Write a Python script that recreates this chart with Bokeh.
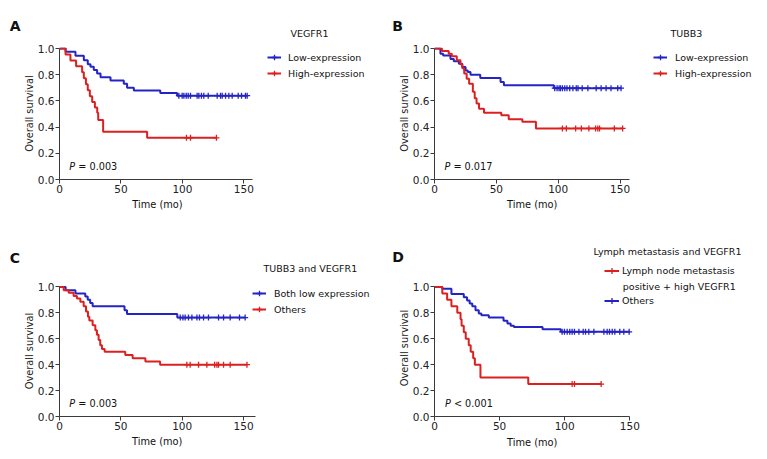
import numpy as np
from bokeh.plotting import figure
from bokeh.layouts import column, row
from bokeh.models import Range1d, FixedTicker, PrintfTickFormatter, Legend, LegendItem, Label
from bokeh.embed import file_html
from bokeh.resources import INLINE

FONT = "DejaVu Sans"
BLUE = "#2424c4"
RED = "#dc2020"

# ---------------- data (time in months, survival probability) ----------------
# Panel A: VEGFR1
a_low_t = [0, 5, 13, 19.8, 23, 25.2, 27.9, 30.6, 33.4, 41.5, 52.3, 55, 60.5, 82, 95.7, 152.7]
a_low_s = [1.0, 0.975, 0.945, 0.91, 0.88, 0.86, 0.835, 0.81, 0.78, 0.755, 0.73, 0.70, 0.68, 0.66, 0.64, 0.64]
a_low_c = [97.1, 99.8, 101.2, 103.1, 104.7, 106.6, 112, 113.4, 115.5, 117.4, 121, 128.3, 131, 132.4,
           135.1, 137.8, 140.5, 145.4, 148.1, 151.3, 152.7]
a_high_t = [0, 4.9, 8.9, 13.5, 18.4, 19.8, 21.5, 23, 24.7, 26.6, 28.8, 30.7, 31.5, 35.5, 71.3, 127.7]
a_high_s = [1.0, 0.955, 0.909, 0.864, 0.818, 0.773, 0.727, 0.682, 0.636, 0.591, 0.55, 0.51, 0.455, 0.364, 0.318, 0.318]
a_high_c = [103.3, 106.6, 127.7]

# Panel B: TUBB3
b_low_t = [0, 4.8, 7, 12.9, 15.6, 19.7, 22.4, 25.1, 26.9, 29.1, 37, 53.4, 56.1, 96.5, 151]
b_low_s = [1.0, 0.96, 0.947, 0.92, 0.903, 0.883, 0.858, 0.832, 0.82, 0.80, 0.775, 0.745, 0.72, 0.697, 0.697]
b_low_c = [97.2, 99.1, 100.7, 101.8, 103.4, 105.3, 107.1, 109.3, 111.9, 114.6, 116, 119.4, 124, 130.7,
           134.7, 138.7, 142.7, 148.1, 150.8]
b_high_t = [0, 6, 11.5, 14, 18, 21, 22.5, 24, 26, 28, 31, 32.5, 34, 36, 40, 54, 60, 71, 82, 152.5]
b_high_s = [1.0, 0.98, 0.96, 0.94, 0.91, 0.88, 0.85, 0.81, 0.77, 0.73, 0.67, 0.62, 0.58, 0.54, 0.51, 0.49,
            0.46, 0.44, 0.39, 0.39]
b_high_c = [103.4, 106.6, 114.1, 118.7, 124.8, 130.2, 132, 133.4, 145.4, 152.1]

# Panel C: TUBB3 and VEGFR1
c_low_t = [0, 5, 13, 21, 23, 25, 27, 53, 55, 96, 151.3]
c_low_s = [1.0, 0.975, 0.95, 0.925, 0.90, 0.875, 0.85, 0.82, 0.79, 0.763, 0.763]
c_low_c = [98.4, 100.6, 102.4, 105.1, 107.9, 112, 114.1, 117.4, 121.4, 129.6, 133.7, 139.1, 146.7, 151.3]
c_oth_t = [0, 3.4, 7.5, 11.5, 14.2, 17, 19.7, 21.6, 23.2, 24.3, 27, 29.2, 30.5, 31.9, 33.2, 34.6, 36.8,
           53.6, 59.6, 70, 82, 152.8]
c_oth_s = [1.0, 0.975, 0.955, 0.93, 0.91, 0.885, 0.85, 0.81, 0.77, 0.74, 0.705, 0.665, 0.63, 0.59, 0.55,
           0.52, 0.50, 0.475, 0.45, 0.425, 0.40, 0.40]
c_oth_c = [103.8, 106.5, 113.3, 120.1, 126.4, 128.3, 129.6, 133.7, 139.1, 152.8]

# Panel D: Lymph metastasis and VEGFR1
d_pos_t = [0, 6, 9.7, 13, 17.5, 20, 20.8, 22.5, 24, 26.3, 27.8, 29.7, 31, 35.3, 72, 128]
d_pos_s = [1.0, 0.95, 0.90, 0.85, 0.80, 0.75, 0.70, 0.65, 0.60, 0.55, 0.50, 0.45, 0.40, 0.30, 0.25, 0.25]
d_pos_c = [105.7, 107.5, 128]
d_oth_t = [0, 6, 13, 22.5, 25, 27, 29, 31.5, 34, 36, 41.7, 53, 56, 58.5, 61, 83, 97, 150]
d_oth_s = [1.0, 0.985, 0.945, 0.92, 0.895, 0.872, 0.85, 0.82, 0.795, 0.782, 0.764, 0.738, 0.718, 0.70,
           0.69, 0.674, 0.653, 0.653]
d_oth_c = [98, 99.8, 101.9, 103.9, 105.7, 107.5, 110.9, 114.2, 116, 118.5, 122.4, 130.1, 132.6, 134.4,
           136.5, 138.5, 142.3, 145.4, 149.5]

x_ticks = [0, 50, 100, 150]
y_ticks = [0.0, 0.2, 0.4, 0.6, 0.8, 1.0]
p_values = ["= 0.003", "= 0.017", "= 0.003", "< 0.001"]
p_pos = (8, 0.1)

BIG = "14px"
SMALL = "9.5px"


def surv_at(times, surv, t):
    idx = np.searchsorted(np.asarray(times), t, side="right") - 1
    return [surv[i] for i in idx]


def no_align(p):
    if "frame_align" in p.properties():
        p.frame_align = False


def textbox(width, height, texts):
    """A borderless figure used only to hold text (and legends) around a plot."""
    h = figure(width=width, height=height, output_backend="svg", toolbar_location=None,
               x_range=Range1d(0, width), y_range=Range1d(height, 0),
               x_axis_location=None, y_axis_location=None,
               min_border_left=0, min_border_right=0, min_border_top=0, min_border_bottom=0)
    no_align(h)
    h.outline_line_color = None
    h.grid.visible = False
    for x, y, txt, size, style, align in texts:
        h.add_layout(Label(x=x, y=y, text=txt, text_font=FONT, text_font_size=size,
                           text_font_style=style, text_baseline="middle", text_align=align,
                           text_color="#111111"))
    return h


def panel(width, height, left, top, bottom, ppu_x, axis_end, ppu_y):
    frame_w = width - left
    frame_h = height - top - bottom
    p = figure(width=width, height=height, output_backend="svg", toolbar_location=None,
               x_range=Range1d(0, frame_w / ppu_x), y_range=Range1d(0, frame_h / ppu_y),
               min_border_left=left, min_border_right=0,
               min_border_top=top, min_border_bottom=bottom)
    no_align(p)
    p.outline_line_color = None
    p.grid.visible = False
    for ax, ticks, fmt in ((p.xaxis[0], x_ticks, "%d"), (p.yaxis[0], y_ticks, "%.1f")):
        ax.ticker = FixedTicker(ticks=ticks)
        ax.formatter = PrintfTickFormatter(format=fmt)
        ax.axis_line_color = "#3a3a3a"
        ax.major_tick_line_color = "#3a3a3a"
        ax.minor_tick_line_color = None
        ax.major_tick_in = 0
        ax.major_label_text_font = FONT
        ax.major_label_text_font_size = "10.5px"
        ax.major_label_text_color = "#222222"
        ax.axis_label_text_font = FONT
        ax.axis_label_text_font_size = "9.8px"
        ax.axis_label_text_font_style = "normal"
        ax.axis_label_text_color = "#222222"
    p.xaxis.bounds = (0, axis_end)
    p.yaxis.bounds = (0, 1)
    p.xaxis.major_tick_out = 4
    p.xaxis.major_label_standoff = 1
    p.yaxis.major_tick_out = 4
    p.yaxis.major_label_standoff = 1
    p.yaxis.axis_label_standoff = 0
    p.yaxis.axis_label = "Overall survival"
    return p


def curve(p, t, s, c, color):
    ln = p.step(t, s, mode="after", line_color=color, line_width=2)
    sc = p.scatter(c, surv_at(t, s, c), marker="cross", size=6, line_color=color, line_width=1.3)
    return [ln, sc]


def pval(p, txt):
    x, y = p_pos
    p.add_layout(Label(x=x, y=y, text="P", text_font=FONT, text_font_size="9.7px",
                       text_font_style="italic", text_baseline="middle", text_color="#111111"))
    p.add_layout(Label(x=x, y=y, x_offset=9, text=txt, text_font=FONT, text_font_size="9.7px",
                       text_baseline="middle", text_color="#111111"))


def legend(p, items, loc, standoff=7, gw=14, gh=16, spacing=0):
    lg = Legend(items=[LegendItem(label=l, renderers=r) for l, r in items], location=loc,
                border_line_color=None, background_fill_alpha=0, padding=0, margin=0, spacing=spacing,
                glyph_width=gw, glyph_height=gh, label_height=gh, label_standoff=standoff,
                label_text_font=FONT, label_text_font_size=SMALL, label_text_color="#111111")
    p.add_layout(lg)


XLAB = "Time (mo)"

# ---------------- panel A ----------------
ha = textbox(384, 40, [(9.3, 25, "A", BIG, "bold", "left"), (290, 33.3, "VEGFR1", SMALL, "normal", "left")])
pa = panel(384, 158, 59, 7, 19, 1.229, 157, 131)
ra1 = curve(pa, a_low_t, a_low_s, a_low_c, BLUE)
ra2 = curve(pa, a_high_t, a_high_s, a_high_c, RED)
legend(pa, [("Low-expression", ra1), ("High-expression", ra2)], (208, 98))
pval(pa, p_values[0])
fa = textbox(384, 35, [(157, 5.5, XLAB, "9.8px", "normal", "center")])

# ---------------- panel B ----------------
hb = textbox(383, 40, [(7.7, 25, "B", BIG, "bold", "left"), (286, 33, "TUBB3", SMALL, "normal", "left")])
pb = panel(383, 158, 50, 7, 19, 1.237, 157.6, 131)
rb1 = curve(pb, b_low_t, b_low_s, b_low_c, BLUE)
rb2 = curve(pb, b_high_t, b_high_s, b_high_c, RED)
legend(pb, [("Low-expression", rb1), ("High-expression", rb2)], (219, 98), standoff=8)
pval(pb, p_values[1])
fb = textbox(383, 35, [(147.7, 5.5, XLAB, "9.8px", "normal", "center")])

# ---------------- panel C ----------------
hc = textbox(384, 43, [(9.3, 24.3, "C", BIG, "bold", "left"),
                       (263, 35, "TUBB3 and VEGFR1", SMALL, "normal", "left")])
pc = panel(384, 159, 59, 9, 19, 1.227, 159.7, 129.6)
rc1 = curve(pc, c_low_t, c_low_s, c_low_c, BLUE)
rc2 = curve(pc, c_oth_t, c_oth_s, c_oth_c, RED)
legend(pc, [("Both low expression", rc1), ("Others", rc2)], (193, 99), standoff=8)
pval(pc, p_values[2])
fc = textbox(384, 24, [(156.7, 6, XLAB, "9.8px", "normal", "center")])

# ---------------- panel D ----------------
hd = textbox(383, 46, [(7.7, 23.7, "D", BIG, "bold", "left"),
                       (209, 18, "Lymph metastasis and VEGFR1", SMALL, "normal", "left")])
pd_ = panel(383, 156, 50, 0, 19, 1.302, 150, 129.6)
rd2 = curve(pd_, d_oth_t, d_oth_s, d_oth_c, BLUE)
rd1 = curve(pd_, d_pos_t, d_pos_s, d_pos_c, RED)
# legend key for the red group sits above the plot frame, in the header (key glyphs only, no data drawn)
key_line = hd.line([np.nan, np.nan], [np.nan, np.nan], line_color=RED, line_width=2)
key_mark = hd.scatter([np.nan], [np.nan], marker="cross", size=6, line_color=RED, line_width=1.3)
legend(hd, [("Lymph node metastasis", [key_line, key_mark])], (220, 1.5), standoff=3, gw=15, gh=15)
pd_.add_layout(Label(x=188.3 / 1.302, y=130.3 / 129.6, text="positive + high VEGFR1", text_font=FONT,
                     text_font_size=SMALL, text_baseline="middle", text_align="left",
                     text_color="#111111"))
legend(pd_, [("Others", rd2)], (170, 107.8), standoff=3, gw=15, gh=15)
pval(pd_, p_values[3])
fd = textbox(383, 24, [(147.7, 6.7, XLAB, "9.8px", "normal", "center")])

layout = column(row(column(ha, pa, fa), column(hb, pb, fb)),
                row(column(hc, pc, fc), column(hd, pd_, fd)))
open("out.html", "w").write(file_html(layout, INLINE))
